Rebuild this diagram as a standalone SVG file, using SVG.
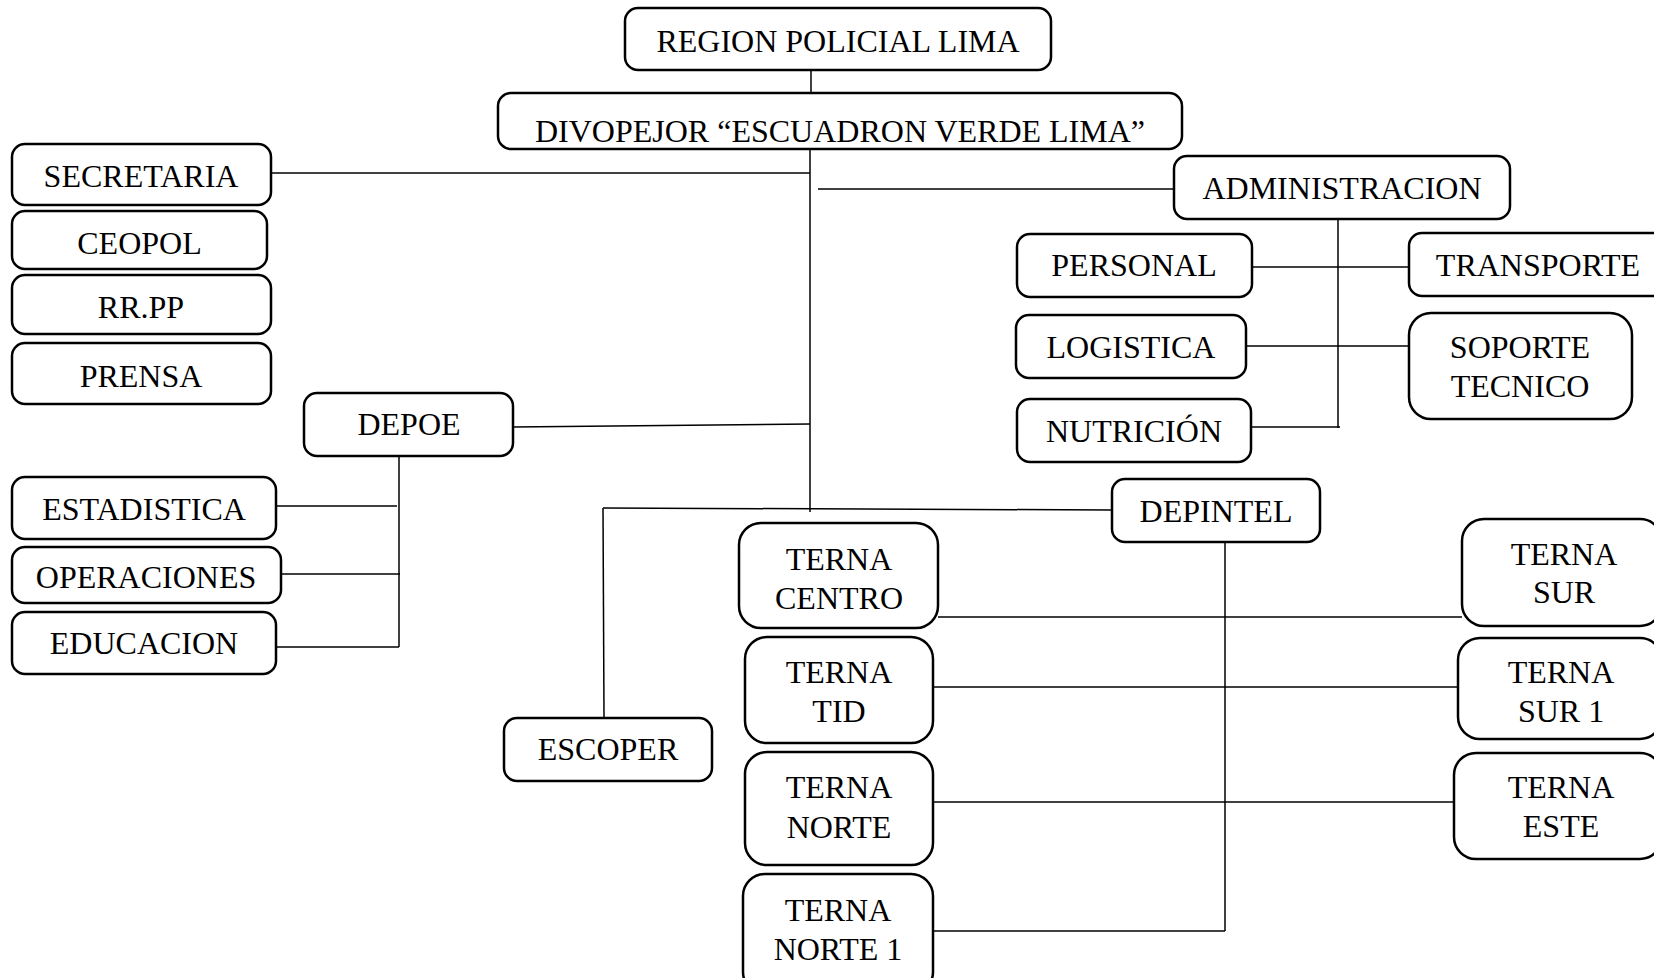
<svg xmlns="http://www.w3.org/2000/svg" width="1654" height="978" viewBox="0 0 1654 978">
<style>
.b{fill:#fff;stroke:#000;stroke-width:2.5}
.t{font-family:"Liberation Serif","Times New Roman",serif;font-size:32px;fill:#000;text-anchor:middle}
.c path{fill:none;stroke:#000;stroke-width:1.5}
</style>
<rect width="1654" height="978" fill="#fff"/>
<g class="c" id="connectors">
<path d="M811 70V93"/>
<path d="M810 149V512"/>
<path d="M271 173H810"/>
<path d="M818 189H1174"/>
<path d="M513 427L810 424"/>
<path d="M399 456V647"/>
<path d="M276 506H397"/>
<path d="M281 574H400"/>
<path d="M276 647H399"/>
<path d="M603 508L1112 510"/>
<path d="M603 508L604 718"/>
<path d="M1338 219V428"/>
<path d="M1252 267H1409"/>
<path d="M1246 346H1409"/>
<path d="M1251 427H1340"/>
<path d="M1225 542V931"/>
<path d="M938 617H1462"/>
<path d="M933 687H1458"/>
<path d="M933 802H1454"/>
<path d="M933 931H1225"/>
</g>
<g id="region"><rect class="b" x="625" y="8" width="426" height="62" rx="13"/><text class="t" x="838" y="52">REGION POLICIAL LIMA</text></g>
<g id="divopejor"><rect class="b" x="498" y="93" width="684" height="56" rx="13"/><text class="t" x="840" y="142">DIVOPEJOR “ESCUADRON VERDE LIMA”</text></g>
<g id="secretaria"><rect class="b" x="12" y="144" width="259" height="61" rx="13"/><text class="t" x="141" y="187">SECRETARIA</text></g>
<g id="ceopol"><rect class="b" x="12" y="211" width="255" height="58" rx="13"/><text class="t" x="139.5" y="254">CEOPOL</text></g>
<g id="rrpp"><rect class="b" x="12" y="275" width="259" height="59" rx="13"/><text class="t" x="141" y="318">RR.PP</text></g>
<g id="prensa"><rect class="b" x="12" y="343" width="259" height="61" rx="13"/><text class="t" x="141" y="387">PRENSA</text></g>
<g id="depoe"><rect class="b" x="304" y="393" width="209" height="63" rx="13"/><text class="t" x="409" y="435">DEPOE</text></g>
<g id="estadistica"><rect class="b" x="12" y="477" width="264" height="62" rx="13"/><text class="t" x="144" y="520">ESTADISTICA</text></g>
<g id="operaciones"><rect class="b" x="12" y="547" width="269" height="56" rx="13"/><text class="t" x="146" y="588">OPERACIONES</text></g>
<g id="educacion"><rect class="b" x="12" y="612" width="264" height="62" rx="13"/><text class="t" x="144" y="654">EDUCACION</text></g>
<g id="escoper"><rect class="b" x="504" y="718" width="208" height="63" rx="13"/><text class="t" x="608" y="760">ESCOPER</text></g>
<g id="terna-centro"><rect class="b" x="739" y="523" width="199" height="105" rx="22"/><text class="t" x="839" y="570">TERNA</text><text class="t" x="839" y="609">CENTRO</text></g>
<g id="terna-tid"><rect class="b" x="745" y="637" width="188" height="106" rx="22"/><text class="t" x="839" y="683">TERNA</text><text class="t" x="839" y="722">TID</text></g>
<g id="terna-norte"><rect class="b" x="745" y="752" width="188" height="113" rx="22"/><text class="t" x="839" y="798">TERNA</text><text class="t" x="839" y="838">NORTE</text></g>
<g id="terna-norte-1"><rect class="b" x="743" y="874" width="190" height="120" rx="22"/><text class="t" x="838" y="921">TERNA</text><text class="t" x="838" y="960">NORTE 1</text></g>
<g id="depintel"><rect class="b" x="1112" y="479" width="208" height="63" rx="13"/><text class="t" x="1216" y="522">DEPINTEL</text></g>
<g id="administracion"><rect class="b" x="1174" y="156" width="336" height="63" rx="13"/><text class="t" x="1342" y="199">ADMINISTRACION</text></g>
<g id="personal"><rect class="b" x="1017" y="234" width="235" height="63" rx="13"/><text class="t" x="1134" y="276">PERSONAL</text></g>
<g id="transporte"><rect class="b" x="1409" y="233" width="259" height="63" rx="13"/><text class="t" x="1538" y="276">TRANSPORTE</text></g>
<g id="logistica"><rect class="b" x="1016" y="315" width="230" height="63" rx="13"/><text class="t" x="1131" y="358">LOGISTICA</text></g>
<g id="soporte-tecnico"><rect class="b" x="1409" y="313" width="223" height="106" rx="22"/><text class="t" x="1520" y="358">SOPORTE</text><text class="t" x="1520" y="397">TECNICO</text></g>
<g id="nutricion"><rect class="b" x="1017" y="399" width="234" height="63" rx="13"/><text class="t" x="1134" y="442">NUTRICIÓN</text></g>
<g id="terna-sur"><rect class="b" x="1462" y="519" width="200" height="107" rx="22"/><text class="t" x="1564" y="565">TERNA</text><text class="t" x="1564" y="603">SUR</text></g>
<g id="terna-sur-1"><rect class="b" x="1458" y="638" width="204" height="101" rx="22"/><text class="t" x="1561" y="683">TERNA</text><text class="t" x="1561" y="722">SUR 1</text></g>
<g id="terna-este"><rect class="b" x="1454" y="753" width="208" height="106" rx="22"/><text class="t" x="1561" y="798">TERNA</text><text class="t" x="1561" y="837">ESTE</text></g>
</svg>
